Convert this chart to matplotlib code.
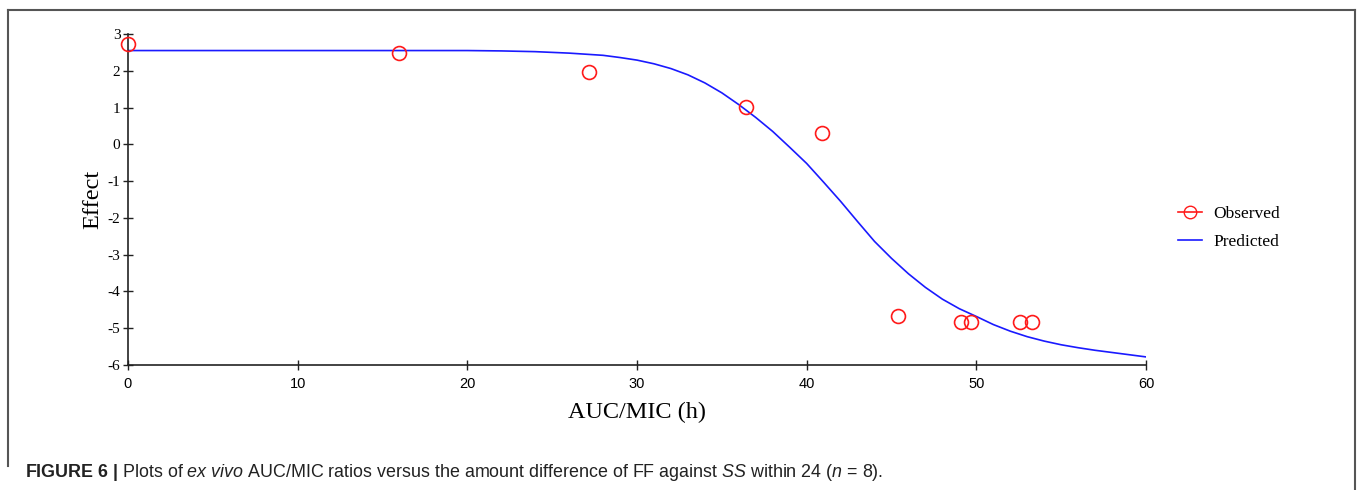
import matplotlib
matplotlib.use("Agg")
import matplotlib.pyplot as plt
from matplotlib.lines import Line2D

# Observed points (AUC/MIC, effect)
obs_x = [0.0, 16.0, 27.2, 36.4, 40.9, 45.4, 49.1, 49.7, 52.6, 53.3]
obs_y = [2.74, 2.49, 1.98, 1.02, 0.30, -4.67, -4.82, -4.82, -4.82, -4.82]

# Predicted curve
pred_x = [0, 10, 20, 22, 24, 26, 27, 28, 29, 30, 31, 32, 33, 34, 35, 36, 37,
          38, 39, 40, 41, 42, 43, 44, 45, 46, 47, 48, 49, 50, 51, 52, 53, 54,
          55, 56, 57, 58, 59, 60]
pred_y = [2.55, 2.55, 2.55, 2.54, 2.52, 2.48, 2.45, 2.42, 2.36, 2.29, 2.19,
          2.06, 1.89, 1.67, 1.40, 1.08, 0.73, 0.35, -0.08, -0.52, -1.03, -1.55,
          -2.10, -2.64, -3.10, -3.52, -3.89, -4.21, -4.47, -4.68, -4.90, -5.08,
          -5.23, -5.35, -5.45, -5.53, -5.60, -5.66, -5.72, -5.78]

x_ticks = [0, 10, 20, 30, 40, 50, 60]
y_ticks = [3, 2, 1, 0, -1, -2, -3, -4, -5, -6]

plt.rcParams['axes.unicode_minus'] = False
plt.rcParams['mathtext.fontset'] = 'custom'
plt.rcParams['mathtext.rm'] = 'Liberation Sans'
plt.rcParams['mathtext.it'] = 'Liberation Sans:italic'
plt.rcParams['mathtext.bf'] = 'Liberation Sans:bold'

W, H = 1358, 490
fig = plt.figure(figsize=(W / 100, H / 100), dpi=100)
ax = fig.add_axes([128 / W, 1 - 365 / H, (1146 - 128) / W, (365 - 34) / H])

ax.plot(pred_x, pred_y, color='#1a1aff', lw=1.2, label='Predicted', zorder=2)
ax.plot(obs_x, obs_y, linestyle='none', marker='o', ms=10, mfc='none',
        mec='#ff1a1a', mew=1.2, clip_on=False, zorder=3)

ax.set_xlim(0, 60)
ax.set_ylim(-6, 3)
ax.set_xticks(x_ticks)
ax.set_yticks(y_ticks)
ax.spines['top'].set_visible(False)
ax.spines['right'].set_visible(False)
for s in ('left', 'bottom'):
    ax.spines[s].set_linewidth(1.2)
    ax.spines[s].set_color('#222222')
ax.tick_params(direction='inout', length=7, width=1, color='#222222')
for lab in ax.get_yticklabels():
    lab.set_family('Liberation Serif')
    lab.set_fontsize(11)
for lab in ax.get_xticklabels():
    lab.set_family(['Liberation Sans Narrow', 'Liberation Sans'])
    lab.set_fontsize(10.5)
ax.tick_params(axis='y', pad=2)
ax.tick_params(axis='x', pad=5)

ax.set_xlabel('AUC/MIC (h)', family='Liberation Serif', fontsize=17.5, labelpad=8)
ax.set_ylabel('Effect', family='Liberation Serif', fontsize=17.5, labelpad=3)

handles = [Line2D([], [], color='#ff1a1a', marker='o', ms=9, mfc='none', lw=1.2),
           Line2D([], [], color='#1a1aff', lw=1.2)]
fig.legend(handles, ['Observed', 'Predicted'], loc='center left',
           bbox_to_anchor=(1162 / W, 1 - 228 / H), frameon=False,
           prop={'family': 'Liberation Serif', 'size': 12.5},
           handlelength=1.4, handletextpad=0.65, labelspacing=0.7)

# outer frame
fc = '#555555'
fig.add_artist(Line2D([8 / W, 1355 / W], [1 - 10 / H, 1 - 10 / H], color=fc, lw=1.5))
fig.add_artist(Line2D([8 / W, 8 / W], [1 - 10 / H, 1 - 466 / H], color=fc, lw=1.5))
fig.add_artist(Line2D([1355 / W, 1355 / W], [1 - 10 / H, 0], color=fc, lw=1.5))

caption = (r"$\mathbf{FIGURE\ 6\ |}$ Plots of $\mathit{ex\ vivo}$ AUC/MIC ratios versus "
           r"the amount difference of FF against $\mathit{SS}$ within 24 ($\mathit{n}$ = 8).")
fig.text(25 / W, 1 - 472 / H, caption, family='Liberation Sans', fontsize=12.9,
         va='center', ha='left', color='#222222')

fig.savefig('out.png', dpi=100)
